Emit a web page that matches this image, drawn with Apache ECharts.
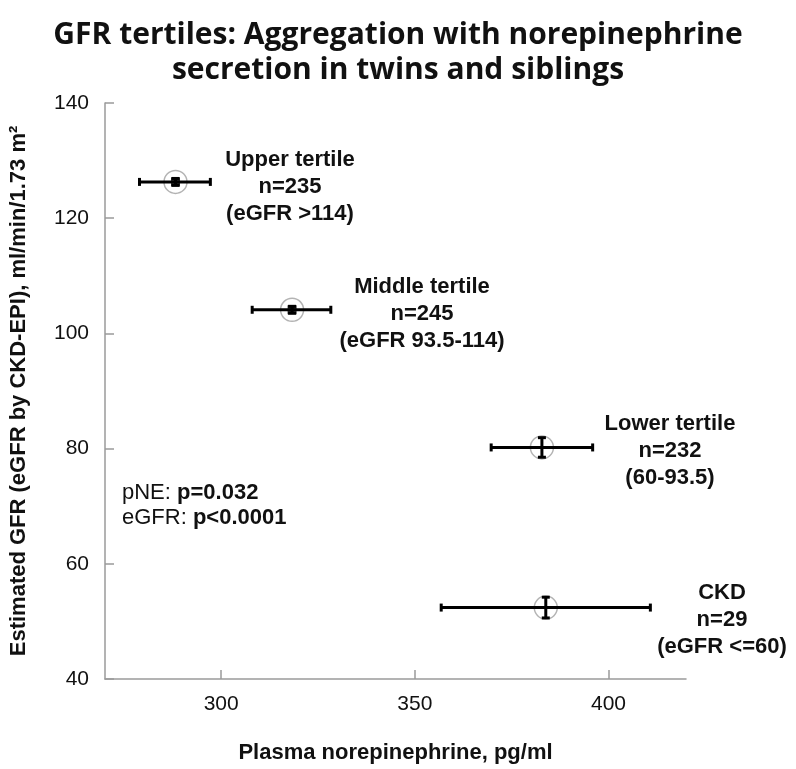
<!DOCTYPE html>
<html>
<head>
<meta charset="utf-8">
<script src="https://cdn.jsdelivr.net/npm/echarts@6/dist/echarts.min.js"></script>
<style>
  html, body { margin: 0; padding: 0; background: #fff; }
  #chart { width: 796px; height: 769px; }
</style>
</head>
<body>
<div id="chart"></div>
<script>
// values: mean plasma NE (x) vs mean eGFR (y), with error bars
const groups = ['Upper tertile', 'Middle tertile', 'Lower tertile', 'CKD'];
const groupN = ['n=235', 'n=245', 'n=232', 'n=29'];
const groupRange = ['(eGFR >114)', '(eGFR 93.5-114)', '(60-93.5)', '(eGFR <=60)'];
const neMean = [288.2, 318.3, 382.8, 383.8];
const neLow = [278.9, 308.0, 369.7, 356.8];
const neHigh = [297.2, 328.3, 395.9, 410.8];
const gfrMean = [126.3, 104.1, 80.2, 52.4];
const gfrLow = [125.7, 103.5, 78.5, 50.6];
const gfrHigh = [126.9, 104.7, 81.9, 54.2];
const xTicks = [300, 350, 400];
const pText = ['pNE: ', 'p=0.032', 'eGFR: ', 'p<0.0001'];

const chart = echarts.init(document.getElementById('chart'));
const font = 'Liberation Sans, Arial, sans-serif';

const points = groups.map((g, i) => [neMean[i], gfrMean[i]]);
const bars = groups.map((g, i) => [neMean[i], gfrMean[i], neLow[i], neHigh[i], gfrLow[i], gfrHigh[i]]);
// only the two upper tertiles have a filled square marker
const squares = points.slice(0, 2);

function renderBar(params, api) {
    const x = api.value(0), y = api.value(1);
    const l = api.coord([api.value(2), y]);
    const r = api.coord([api.value(3), y]);
    const b = api.coord([x, api.value(4)]);
    const t = api.coord([x, api.value(5)]);
    const cap = 4;
    const style = { stroke: '#000', lineWidth: 3 };
    const line = (x1, y1, x2, y2) => ({ type: 'line', shape: { x1, y1, x2, y2 }, style });
    return {
        type: 'group',
        children: [
            line(l[0], l[1], r[0], r[1]),
            line(l[0], l[1] - cap, l[0], l[1] + cap),
            line(r[0], r[1] - cap, r[0], r[1] + cap),
            line(b[0], b[1], t[0], t[1]),
            line(b[0] - cap, b[1], b[0] + cap, b[1]),
            line(t[0] - cap, t[1], t[0] + cap, t[1])
        ]
    };
}

const labelStyle = {
    font: 'bold 22px ' + font,
    fill: '#111',
    textAlign: 'center',
    lineHeight: 27
};
const anchors = [[290, 146], [422, 273], [670, 410], [722, 579]];

chart.setOption({
    animation: false,
    title: {
        text: 'GFR tertiles: Aggregation with norepinephrine\nsecretion in twins and siblings',
        left: 'center',
        top: 13,
        textStyle: {
            fontFamily: 'Open Sans',
            fontWeight: 'bold',
            fontSize: 30,
            lineHeight: 35,
            color: '#111'
        }
    },
    grid: { left: 103, right: 110, top: 103, bottom: 84 },
    xAxis: {
        type: 'value',
        min: 270,
        max: 420,
        name: 'Plasma norepinephrine, pg/ml',
        nameLocation: 'middle',
        nameGap: 63,
        nameTextStyle: { fontFamily: font, fontWeight: 'bold', fontSize: 22, color: '#111' },
        axisLine: { lineStyle: { color: '#9a9a9a', width: 1.5 } },
        axisTick: { show: true, inside: true, length: 9, customValues: xTicks, lineStyle: { color: '#9a9a9a', width: 1.5 } },
        axisLabel: { customValues: xTicks, fontFamily: font, fontSize: 21, color: '#111', margin: 15 },
        splitLine: { show: false }
    },
    yAxis: {
        type: 'value',
        min: 40,
        max: 140,
        interval: 20,
        name: 'Estimated GFR (eGFR by CKD-EPI), ml/min/1.73 m\u00B2',
        nameLocation: 'middle',
        nameRotate: 90,
        nameGap: 75,
        nameTextStyle: { fontFamily: font, fontWeight: 'bold', fontSize: 22, color: '#111' },
        axisLine: { show: true, lineStyle: { color: '#9a9a9a', width: 1.5 } },
        axisTick: { show: true, inside: true, length: 9, lineStyle: { color: '#9a9a9a', width: 1.5 } },
        axisLabel: { fontFamily: font, fontSize: 21, color: '#111', margin: 16 },
        splitLine: { show: false }
    },
    graphic: anchors.map((a, i) => ({
        type: 'text',
        x: a[0],
        y: a[1],
        style: Object.assign({ text: groups[i] + '\n' + groupN[i] + '\n' + groupRange[i] }, labelStyle)
    })).concat([{
        type: 'text',
        x: 122,
        y: 480,
        style: {
            text: pText[0] + '{b|' + pText[1] + '}\n' + pText[2] + '{b|' + pText[3] + '}',
            font: '22px ' + font,
            fill: '#111',
            lineHeight: 25,
            rich: { b: { fontFamily: font, fontWeight: 'bold', fontSize: 22, lineHeight: 25, color: '#111' } }
        }
    }]),
    series: [
        {
            type: 'scatter',
            data: points,
            symbol: 'circle',
            symbolSize: 23,
            itemStyle: { color: 'rgba(255,255,255,0)', borderColor: '#a0a0a0', borderWidth: 1.5 },
            z: 2
        },
        {
            type: 'custom',
            data: bars,
            renderItem: renderBar,
            z: 3
        },
        {
            type: 'scatter',
            data: squares,
            symbol: 'rect',
            symbolSize: 9,
            itemStyle: { color: '#000' },
            z: 4
        }
    ]
});
</script>
</body>
</html>
